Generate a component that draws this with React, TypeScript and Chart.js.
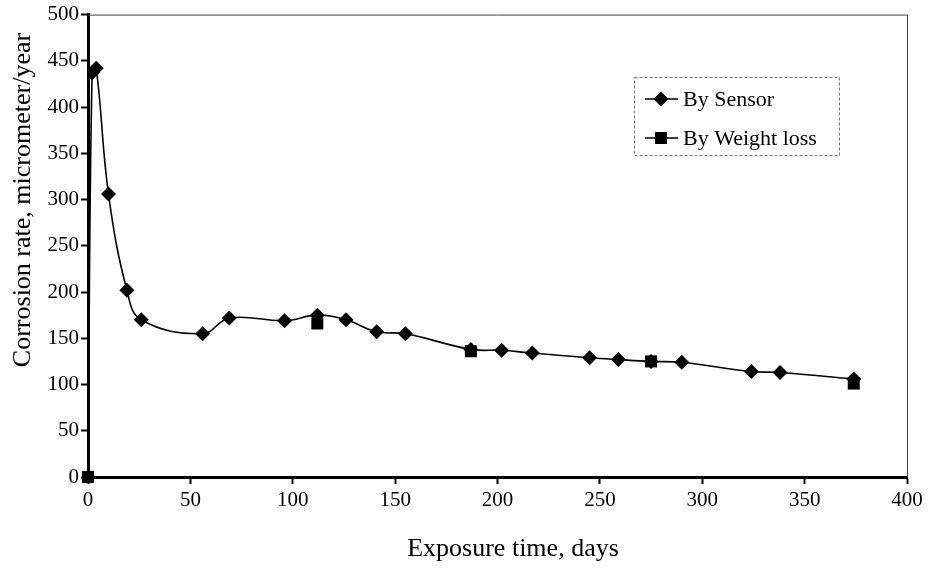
import React, { useEffect, useRef } from "react";
import { Chart, registerables } from "chart.js";

Chart.register(...registerables);

const sensorDays = [0, 2, 4, 10, 19, 26, 56, 69, 96, 112, 126, 141, 155, 187, 202, 217, 245, 259, 275, 290, 324, 338, 374];
const sensorRates = [0, 437, 442, 306, 202, 170, 155, 172, 169, 175, 170, 157, 155, 138, 137, 134, 129, 127, 125, 124, 114, 113, 106];
const weightDays = [0, 112, 187, 275, 374];
const weightRates = [0, 166, 136, 125, 101];
const seriesLabels = ["By Sensor", "By Weight loss"];
const xTitle = "Exposure time, days";
const yTitle = "Corrosion rate, micrometer/year";

const FONT = "'Liberation Serif', 'Times New Roman', serif";

const overlayPlugin = {
  id: "overlay",
  afterDraw(chart: any) {
    const { ctx, chartArea } = chart;
    ctx.save();
    // top & right frame
    ctx.strokeStyle = "#444";
    ctx.lineWidth = 1;
    ctx.beginPath();
    ctx.moveTo(chartArea.left, chartArea.top + 0.5);
    ctx.lineTo(chartArea.right + 0.5, chartArea.top + 0.5);
    ctx.lineTo(chartArea.right + 0.5, chartArea.bottom);
    ctx.stroke();

    // axis titles
    ctx.fillStyle = "#000";
    ctx.font = `26px ${FONT}`;
    ctx.textAlign = "center";
    ctx.textBaseline = "middle";
    ctx.fillText(xTitle, 513, 549);
    ctx.save();
    ctx.translate(23, 200);
    ctx.rotate(-Math.PI / 2);
    ctx.fillText(yTitle, 0, 0);
    ctx.restore();

    // legend
    const lx = 634, ly = 77, lw = 205, lh = 78;
    ctx.strokeStyle = "#777";
    ctx.lineWidth = 1;
    ctx.setLineDash([3, 2]);
    ctx.strokeRect(lx + 0.5, ly + 0.5, lw, lh);
    ctx.setLineDash([]);
    const rows = [99, 138];
    chart.data.datasets.forEach((ds: any, i: number) => {
      const cy = rows[i];
      ctx.strokeStyle = "#000";
      ctx.lineWidth = 1.5;
      ctx.beginPath();
      ctx.moveTo(645, cy);
      ctx.lineTo(678, cy);
      ctx.stroke();
      ctx.fillStyle = "#000";
      const cx = 661;
      if (ds.pointStyle === "rectRot") {
        ctx.beginPath();
        ctx.moveTo(cx, cy - 7.5);
        ctx.lineTo(cx + 7.5, cy);
        ctx.lineTo(cx, cy + 7.5);
        ctx.lineTo(cx - 7.5, cy);
        ctx.closePath();
        ctx.fill();
      } else {
        ctx.fillRect(cx - 6, cy - 6, 12, 12);
      }
      ctx.font = `22px ${FONT}`;
      ctx.textAlign = "left";
      ctx.textBaseline = "middle";
      ctx.fillText(ds.label, 683, cy + 1);
    });
    ctx.restore();
  },
};

export default function App() {
  const ref = useRef<HTMLCanvasElement>(null);
  useEffect(() => {
    document.body.style.margin = "0";
    const canvas = ref.current!;
    const chart = new Chart(canvas, {
      type: "scatter",
      data: {
        datasets: [
          {
            label: seriesLabels[0],
            data: sensorDays.map((d, i) => ({ x: d, y: sensorRates[i] })),
            showLine: true,
            borderColor: "#000",
            backgroundColor: "#000",
            borderWidth: 1.6,
            tension: 0.4,
            pointStyle: "rectRot",
            pointRadius: 7.5,
            pointBorderWidth: 0,
          },
          {
            label: seriesLabels[1],
            data: weightDays.map((d, i) => ({ x: d, y: weightRates[i] })),
            showLine: false,
            clip: false,
            borderColor: "#000",
            backgroundColor: "#000",
            pointStyle: "rect",
            pointRadius: 8.5,
            pointBorderWidth: 0,
          },
        ],
      },
      options: {
        responsive: false,
        animation: false,
        layout: { padding: { top: 13, right: 22, left: 0, bottom: 0 } },
        plugins: { legend: { display: false }, tooltip: { enabled: false } },
        scales: {
          x: {
            type: "linear",
            min: 0,
            max: 400,
            ticks: { stepSize: 50, color: "#000", font: { family: FONT, size: 21 }, padding: 4, maxRotation: 0 },
            grid: { drawOnChartArea: false, drawTicks: true, tickLength: 7, tickColor: "#000", tickWidth: 2 },
            border: { display: true, color: "#000", width: 3 },
            afterFit: (s: any) => { s.height = 91; },
          },
          y: {
            min: 0,
            max: 500,
            ticks: { stepSize: 50, color: "#000", font: { family: FONT, size: 21 }, padding: 2 },
            grid: { drawOnChartArea: false, drawTicks: true, tickLength: 7, tickColor: "#000", tickWidth: 2 },
            border: { display: true, color: "#000", width: 3 },
            afterFit: (s: any) => { s.width = 88; },
          },
        },
      } as any,
      plugins: [overlayPlugin],
    });
    return () => chart.destroy();
  }, []);
  return (
    <div style={{ width: 929, height: 568, background: "#fff" }}>
      <canvas ref={ref} width={929} height={568} />
    </div>
  );
}
